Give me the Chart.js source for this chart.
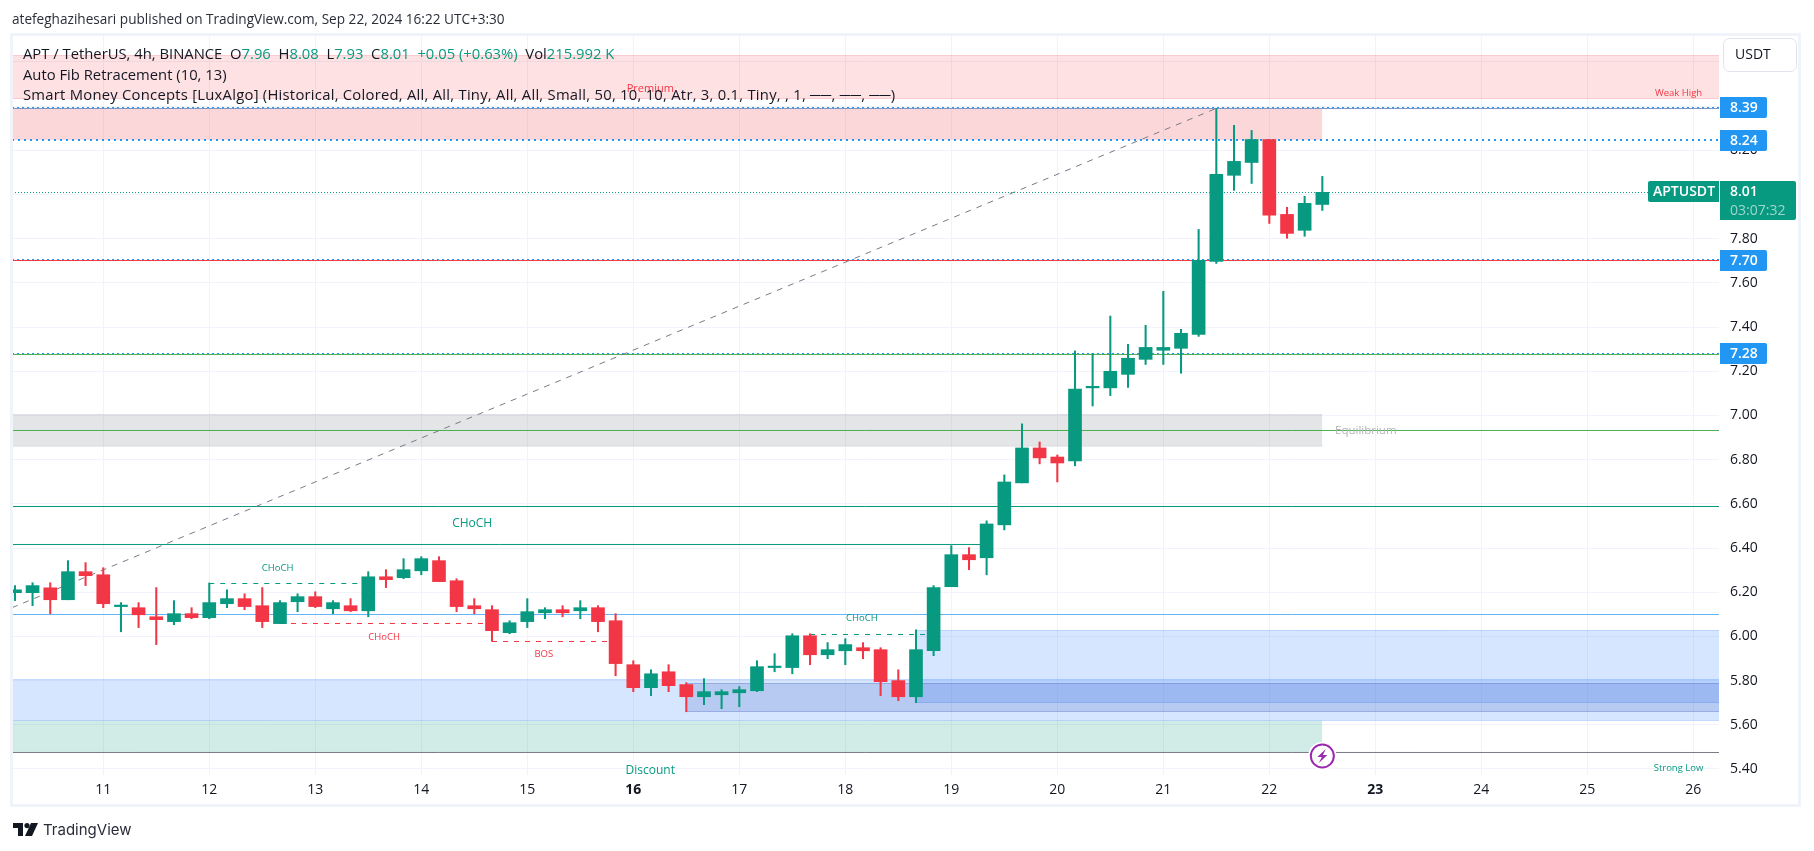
<!DOCTYPE html>
<html>
<head>
<meta charset="utf-8">
<title>APT / TetherUS</title>
<script src="https://cdn.jsdelivr.net/npm/chart.js@4"></script>
<style>
  html, body { margin: 0; padding: 0; background: #fff; overflow: hidden; }
  body { width: 1814px; height: 851px; position: relative; font-family: "Open Sans", sans-serif; color: #131722; }
  #publicado { position: absolute; left: 12px; top: 10px; font-size: 13.6px; line-height: 18px; color: #2a2e39; white-space: nowrap; }
  #marco { position: absolute; left: 10px; top: 33px; width: 1785px; height: 768px; border: 3px solid #f0f3fa; pointer-events: none; }
  #leyenda { position: absolute; left: 23px; top: 43px; font-size: 14.8px; line-height: 20.6px; color: #131722; white-space: nowrap; }
  #leyenda b { font-weight: normal; color: #089981; }
  #leyenda .larga { letter-spacing: 0.25px; }
  #logo { position: absolute; left: 13px; top: 820px; font-family: Inter, sans-serif; font-size: 15px; font-weight: 400; color: #2a2e39; line-height: 20px; padding-left: 30px; }
  #logo svg { position: absolute; left: 0; top: 3px; }
  canvas { position: absolute; left: 0; top: 0; }
</style>
</head>
<body>
<canvas id="grafico" width="1814" height="851"></canvas>
<div id="marco"></div>
<div id="publicado">atefeghazihesari published on TradingView.com, Sep 22, 2024 16:22 UTC+3:30</div>
<div id="leyenda">
  <div>APT / TetherUS, 4h, BINANCE &nbsp;O<b>7.96</b> &nbsp;H<b>8.08</b> &nbsp;L<b>7.93</b> &nbsp;C<b>8.01</b> &nbsp;<b>+0.05 (+0.63%)</b> &nbsp;Vol<b>215.992 K</b></div>
  <div>Auto Fib Retracement (10, 13)</div>
  <div class="larga">Smart Money Concepts [LuxAlgo] (Historical, Colored, All, All, Tiny, All, All, Small, 50, 10, 10, Atr, 3, 0.1, Tiny, , 1, ──, ──, ──)</div>
</div>
<div id="logo"><svg width="25" height="13" viewBox="0 0 25 13"><path d="M0 0h10v13H5V5H0z M12 13l6-13h7l-6 13z" fill="#131722"/><circle cx="14" cy="2.6" r="2.6" fill="#131722"/></svg>TradingView</div>
<script>
// --- datos ---
const candleDays = [10.167, 10.333, 10.5, 10.667, 10.833, 11, 11.167, 11.333, 11.5, 11.667, 11.833, 12, 12.167, 12.333, 12.5, 12.667, 12.833, 13, 13.167, 13.333, 13.5, 13.667, 13.833, 14, 14.167, 14.333, 14.5, 14.667, 14.833, 15, 15.167, 15.333, 15.5, 15.667, 15.833, 16, 16.167, 16.333, 16.5, 16.667, 16.833, 17, 17.167, 17.333, 17.5, 17.667, 17.833, 18, 18.167, 18.333, 18.5, 18.667, 18.833, 19, 19.167, 19.333, 19.5, 19.667, 19.833, 20, 20.167, 20.333, 20.5, 20.667, 20.833, 21, 21.167, 21.333, 21.5, 21.667, 21.833, 22, 22.167, 22.333, 22.5];
const opens = [6.198, 6.198, 6.22, 6.166, 6.293, 6.279, 6.135, 6.13, 6.089, 6.067, 6.103, 6.085, 6.148, 6.171, 6.139, 6.058, 6.157, 6.18, 6.125, 6.139, 6.116, 6.27, 6.266, 6.297, 6.343, 6.252, 6.139, 6.121, 6.017, 6.067, 6.107, 6.121, 6.116, 6.13, 6.071, 5.872, 5.768, 5.84, 5.782, 5.727, 5.736, 5.745, 5.754, 5.859, 5.859, 6.003, 5.917, 5.935, 5.949, 5.94, 5.8, 5.727, 5.935, 6.225, 6.37, 6.356, 6.505, 6.695, 6.853, 6.812, 6.794, 7.125, 7.125, 7.186, 7.254, 7.295, 7.304, 7.367, 7.697, 8.087, 8.145, 8.249, 7.91, 7.838, 7.955];
const highs = [6.23, 6.243, 6.243, 6.343, 6.334, 6.311, 6.153, 6.153, 6.221, 6.162, 6.13, 6.242, 6.211, 6.193, 6.221, 6.162, 6.193, 6.202, 6.162, 6.171, 6.293, 6.302, 6.352, 6.361, 6.361, 6.261, 6.171, 6.139, 6.071, 6.171, 6.13, 6.139, 6.162, 6.139, 6.103, 5.89, 5.849, 5.872, 5.791, 5.809, 5.759, 5.773, 5.89, 5.922, 6.012, 6.012, 5.972, 5.99, 5.972, 5.949, 5.849, 6.03, 6.23, 6.411, 6.402, 6.523, 6.731, 6.962, 6.88, 6.821, 7.292, 7.281, 7.45, 7.322, 7.408, 7.562, 7.39, 7.842, 8.39, 8.313, 8.29, 8.249, 7.942, 7.992, 8.082];
const lows = [6.162, 6.139, 6.103, 6.166, 6.23, 6.13, 6.021, 6.04, 5.963, 6.053, 6.08, 6.08, 6.13, 6.121, 6.04, 6.058, 6.112, 6.13, 6.103, 6.112, 6.089, 6.221, 6.261, 6.279, 6.248, 6.112, 6.103, 5.978, 6.012, 6.04, 6.08, 6.089, 6.08, 6.021, 5.822, 5.75, 5.732, 5.75, 5.659, 5.691, 5.673, 5.682, 5.75, 5.84, 5.831, 5.872, 5.899, 5.872, 5.899, 5.732, 5.709, 5.7, 5.913, 6.225, 6.302, 6.279, 6.482, 6.695, 6.781, 6.699, 6.772, 7.043, 7.09, 7.127, 7.231, 7.231, 7.191, 7.358, 7.688, 8.019, 8.05, 7.869, 7.802, 7.811, 7.928];
const closes = [6.211, 6.23, 6.166, 6.293, 6.275, 6.148, 6.139, 6.098, 6.076, 6.103, 6.085, 6.153, 6.171, 6.135, 6.067, 6.153, 6.18, 6.135, 6.153, 6.116, 6.27, 6.257, 6.302, 6.352, 6.248, 6.135, 6.125, 6.026, 6.062, 6.112, 6.121, 6.107, 6.13, 6.067, 5.877, 5.768, 5.831, 5.777, 5.727, 5.75, 5.75, 5.759, 5.863, 5.863, 6.003, 5.917, 5.94, 5.963, 5.935, 5.795, 5.727, 5.94, 6.221, 6.37, 6.347, 6.509, 6.699, 6.853, 6.808, 6.785, 7.12, 7.129, 7.2, 7.259, 7.308, 7.308, 7.372, 7.702, 8.091, 8.15, 8.249, 7.906, 7.824, 7.96, 8.01];

const dayTicks = [11, 12, 13, 14, 15, 16, 17, 18, 19, 20, 21, 22, 23, 24, 25, 26];
const boldDays = [16, 23];
const priceTicks = [5.4, 5.6, 5.8, 6, 6.2, 6.4, 6.6, 6.8, 7, 7.2, 7.4, 7.6, 7.8, 8, 8.2, 8.4, 8.6];

const dayMin = 10.139;
const dayMax = 26.242;
const priceMin = 5.3728;
const priceMax = 8.722;
const lastDay = 22.5;

// zonas: dia inicio, dia fin, precio alto, precio bajo, color
const zoneStart = [dayMin, dayMin, dayMin, dayMin, 16.5, 18.667, dayMin];
const zoneEnd = [dayMax, lastDay, lastDay, dayMax, dayMax, dayMax, lastDay];
const zoneHigh = [8.6292, 8.3894, 7.0044, 5.805, 5.7869, 6.0268, 5.6195];
const zoneLow = [8.4346, 8.2468, 6.8606, 5.6195, 5.6602, 5.7009, 5.4747];
const zoneFill = ['rgba(242,54,69,0.15)', 'rgba(242,54,69,0.2)', 'rgba(120,123,134,0.2)', 'rgba(41,120,255,0.19)', 'rgba(60,80,170,0.2)', 'rgba(41,120,255,0.19)', 'rgba(8,153,129,0.19)'];
const zoneEdge = ['rgba(242,54,69,0.2)', 'rgba(242,54,69,0)', 'rgba(120,123,134,0.15)', 'rgba(41,120,255,0.2)', 'rgba(60,80,170,0.35)', 'rgba(41,120,255,0.25)', 'rgba(8,153,129,0)'];

// lineas horizontales
const lineStart = [dayMin, dayMin, dayMin, dayMin, dayMin, dayMin, dayMin, dayMin];
const lineEnd = [dayMax, dayMax, dayMax, dayMax, dayMax, 19.333, dayMax, dayMax];
const linePrice = [8.3894, 7.7014, 7.276, 6.932, 6.588, 6.4161, 6.0992, 5.4747];
const lineColor = ['#7b93c8', '#f23645', '#4caf50', '#4caf50', '#089981', '#089981', '#64b5f6', '#787b86'];

// niveles punteados con etiqueta azul
const levelValues = [8.39, 8.24, 7.7, 7.28];
const levelPrice = [8.3939, 8.2468, 7.7059, 7.2805];

// lineas de estructura (CHoCH / BOS)
const structStart = [12, 12.667, 14.667, 17.667];
const structEnd = [13.5, 14.667, 15.833, 18.833];
const structPrice = [6.2395, 6.0585, 5.977, 6.0087];
const structColor = ['#089981', '#f23645', '#f23645', '#089981'];

const fibDays = [dayMin, 21.5];
const fibPrices = [6.13, 8.39];
const lastClose = 8.01;
const lastCloseLine = 8.009;

// textos dentro del grafico
const noteText = ['Premium', 'Weak High', 'Equilibrium', 'CHoCH', 'CHoCH', 'CHoCH', 'BOS', 'CHoCH', 'Discount', 'Strong Low'];
const noteDay = [16.16, 25.86, 22.91, 14.48, 12.645, 13.65, 15.156, 18.157, 16.16, 25.86];
const notePrice = [8.477, 8.456, 6.933, 6.509, 6.31, 5.995, 5.917, 6.08, 5.394, 5.405];
const noteColor = ['#f23645', '#f23645', '#b5b6bc', '#089981', '#089981', '#f23645', '#f23645', '#089981', '#089981', '#089981'];
const noteSize = [11, 9.5, 11.5, 12, 9.5, 9.5, 9.5, 9.5, 12, 9.5];

// --- datasets ---
const verde = '#089981';
const rojo = '#f23645';
const colorVela = (ctx) => closes[ctx.dataIndex] >= opens[ctx.dataIndex] ? verde : rojo;

const datasets = [];

zoneHigh.forEach((alto, i) => {
    datasets.push({
        type: 'line',
        data: [{ x: zoneStart[i], y: alto }, { x: zoneEnd[i], y: alto }],
        borderColor: zoneEdge[i],
        borderWidth: 1,
        pointRadius: 0,
        fill: { target: { value: zoneLow[i] }, above: zoneFill[i], below: zoneFill[i] },
        order: 20
    });
    datasets.push({
        type: 'line',
        data: [{ x: zoneStart[i], y: zoneLow[i] }, { x: zoneEnd[i], y: zoneLow[i] }],
        borderColor: zoneEdge[i],
        borderWidth: 1,
        pointRadius: 0,
        order: 20
    });
});

linePrice.forEach((precio, i) => {
    datasets.push({
        type: 'line',
        data: [{ x: lineStart[i], y: precio }, { x: lineEnd[i], y: precio }],
        borderColor: lineColor[i],
        borderWidth: 1,
        pointRadius: 0,
        order: 15
    });
});

levelPrice.forEach((precio, i) => {
    datasets.push({
        type: 'line',
        data: [{ x: dayMin, y: precio }, { x: dayMax, y: precio }],
        borderColor: '#2196f3',
        borderWidth: i === 1 ? 2 : 1,
        borderDash: i === 1 ? [2, 4] : [2, 3],
        pointRadius: 0,
        order: 14
    });
});

structPrice.forEach((precio, i) => {
    datasets.push({
        type: 'line',
        data: [{ x: structStart[i], y: precio }, { x: structEnd[i], y: precio }],
        borderColor: structColor[i],
        borderWidth: 1,
        borderDash: [5, 6],
        pointRadius: 0,
        order: 13
    });
});

datasets.push({
    type: 'line',
    data: fibDays.map((d, i) => ({ x: d, y: fibPrices[i] })),
    borderColor: '#787b86',
    borderWidth: 1,
    borderDash: [6, 6],
    pointRadius: 0,
    order: 12
});

datasets.push({
    type: 'line',
    data: [{ x: dayMin, y: lastCloseLine }, { x: 25.64, y: lastCloseLine }],
    borderColor: verde,
    borderWidth: 1,
    borderDash: [1, 2],
    pointRadius: 0,
    order: 11
});

// mechas y cuerpos como barras flotantes
datasets.push({
    type: 'bar',
    data: candleDays.map((d, i) => ({ x: d, y: [lows[i], highs[i]] })),
    backgroundColor: colorVela,
    barThickness: 1.4,
    grouped: false,
    order: 3
});
datasets.push({
    type: 'bar',
    data: candleDays.map((d, i) => ({ x: d, y: [opens[i], closes[i]] })),
    backgroundColor: colorVela,
    barThickness: 13,
    minBarLength: 1.5,
    grouped: false,
    order: 2
});

// --- etiquetas del eje y textos ---
const extras = {
    id: 'extras',
    afterDraw(chart) {
        const c = chart.ctx;
        const sx = chart.scales.x;
        const sy = chart.scales.y;
        const area = chart.chartArea;

        c.save();
        // el 5.40 queda cortado abajo
        c.fillStyle = '#fff';
        c.fillRect(area.right + 1, area.bottom, 76, 10);

        c.save();
        c.beginPath();
        c.rect(area.left, area.top, area.right - area.left, area.bottom - area.top);
        c.clip();
        noteText.forEach((t, i) => {
            c.font = noteSize[i] + 'px "Open Sans", sans-serif';
            c.fillStyle = noteColor[i];
            c.textAlign = 'center';
            c.textBaseline = 'middle';
            c.fillText(t, sx.getPixelForValue(noteDay[i]), sy.getPixelForValue(notePrice[i]));
        });
        c.restore();

        // caja USDT
        c.fillStyle = '#fff';
        c.strokeStyle = '#e0e3eb';
        c.lineWidth = 1;
        c.beginPath();
        c.roundRect(1723.5, 38.5, 73, 33, 6);
        c.fill();
        c.stroke();
        c.fillStyle = '#131722';
        c.font = '14px "Open Sans", sans-serif';
        c.textAlign = 'left';
        c.textBaseline = 'middle';
        c.fillText('USDT', 1735, 55);

        // niveles azules
        levelValues.forEach((v, i) => {
            const y = Math.round(sy.getPixelForValue(levelPrice[i]));
            c.fillStyle = '#2196f3';
            c.beginPath();
            c.roundRect(area.right + 1, y - 10, 47, 21, [0, 2, 2, 0]);
            c.fill();
            c.fillStyle = '#fff';
            c.font = '600 14px "Open Sans", sans-serif';
            c.fillText(v.toFixed(2), 1730, y + 1);
        });

        // precio actual
        const yp = Math.round(sy.getPixelForValue(lastClose));
        c.fillStyle = verde;
        c.beginPath();
        c.roundRect(area.right + 1, yp - 11, 76, 39, [0, 2, 2, 0]);
        c.fill();
        c.beginPath();
        c.roundRect(area.right - 71, yp - 11, 71, 21, [2, 0, 0, 2]);
        c.fill();
        c.fillStyle = '#fff';
        c.font = '600 14px "Open Sans", sans-serif';
        c.fillText(lastClose.toFixed(2), 1730, yp);
        c.fillText('APTUSDT', area.right - 66, yp);
        c.fillStyle = 'rgba(255,255,255,0.6)';
        c.font = '14px "Open Sans", sans-serif';
        c.fillText('03:07:32', 1730, yp + 19);

        // marca del rayo
        const bx = sx.getPixelForValue(lastDay);
        const by = sy.getPixelForValue(5.477) + 4;
        c.beginPath();
        c.arc(bx, by, 14, 0, Math.PI * 2);
        c.fillStyle = '#fff';
        c.fill();
        c.beginPath();
        c.arc(bx, by, 11.5, 0, Math.PI * 2);
        c.strokeStyle = '#9c27b0';
        c.lineWidth = 2;
        c.stroke();
        c.fillStyle = '#9c27b0';
        c.beginPath();
        c.moveTo(bx + 3.5, by - 7);
        c.lineTo(bx - 5, by + 1);
        c.lineTo(bx - 0.5, by + 1);
        c.lineTo(bx - 3.5, by + 7);
        c.lineTo(bx + 5, by - 1);
        c.lineTo(bx + 0.5, by - 1);
        c.closePath();
        c.fill();
        c.restore();
    }
};

new Chart(document.getElementById('grafico'), {
    data: { datasets },
    plugins: [extras],
    options: {
        responsive: false,
        animation: false,
        events: [],
        layout: { padding: { left: 12, right: 13, top: 35, bottom: 44 } },
        plugins: { legend: { display: false }, tooltip: { enabled: false } },
        scales: {
            x: {
                type: 'linear',
                offset: false,
                min: dayMin,
                max: dayMax,
                afterBuildTicks: (axis) => { axis.ticks = dayTicks.map(value => ({ value })); },
                afterFit: (axis) => { axis.height = 32; },
                grid: { color: '#f0f3fa', drawTicks: false, offset: false },
                border: { display: false },
                ticks: {
                    autoSkip: false,
                    maxRotation: 0,
                    padding: 7,
                    color: '#131722',
                    font: (ctx) => ({ family: '"Open Sans", sans-serif', size: 14, weight: ctx.tick && boldDays.includes(ctx.tick.value) ? '700' : '400' }),
                    callback: (v) => String(v)
                }
            },
            y: {
                type: 'linear',
                position: 'right',
                min: priceMin,
                max: priceMax,
                afterBuildTicks: (axis) => { axis.ticks = priceTicks.map(value => ({ value })); },
                afterFit: (axis) => { axis.width = 82; },
                grid: { color: '#f0f3fa', drawTicks: false },
                border: { display: false },
                ticks: {
                    autoSkip: false,
                    padding: 11,
                    color: '#131722',
                    font: { family: '"Open Sans", sans-serif', size: 14 },
                    callback: (v) => v.toFixed(2)
                }
            }
        }
    }
});
</script>
</body>
</html>
